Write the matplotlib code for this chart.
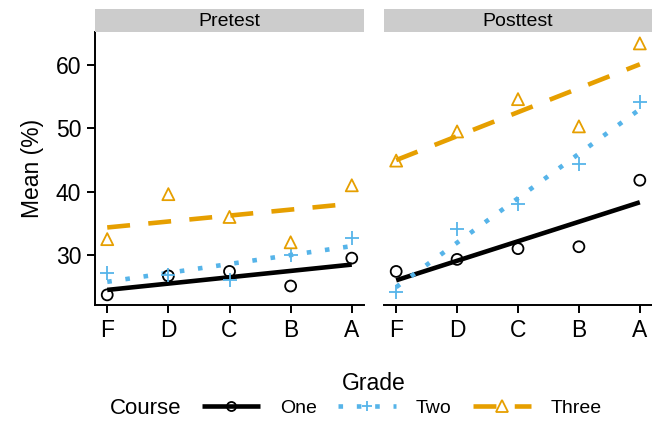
import numpy as np
import matplotlib
matplotlib.use("Agg")
import matplotlib.pyplot as plt
from matplotlib.lines import Line2D

plt.rcParams["font.family"] = ["Liberation Sans", "DejaVu Sans"]

# data
grades = ["F", "D", "C", "B", "A"]
panels = ["Pretest", "Posttest"]
courses = ["One", "Two", "Three"]

pre_one = [23.7, 26.7, 27.4, 25.1, 29.5]
pre_two = [27.2, 26.9, 26.1, 30.0, 32.7]
pre_three = [32.5, 39.6, 36.0, 32.0, 41.0]

post_one = [27.4, 29.3, 31.0, 31.3, 41.8]
post_two = [24.2, 34.1, 38.0, 44.3, 54.2]
post_three = [44.9, 49.5, 54.6, 50.3, 63.4]

values = {
    "Pretest": [pre_one, pre_two, pre_three],
    "Posttest": [post_one, post_two, post_three],
}

colors = ["#000000", "#56B4E9", "#E69F00"]
markers = ["o", "+", "^"]
dashes = [(None, None), (1, 3), (5, 4)]
msize = {"o": 62, "+": 100, "^": 75}

W, H = 652, 422
fig = plt.figure(figsize=(W / 100, H / 100), dpi=100)


def px_axes(left, top, right, bottom):
    return fig.add_axes([left / W, 1 - bottom / H, (right - left) / W, (bottom - top) / H])


x = np.arange(1, len(grades) + 1)
boxes = [(95, 364), (384, 652)]
axes = []
for (l, r), panel in zip(boxes, panels):
    ax = px_axes(l, 32, r, 305)
    axes.append(ax)
    for vals, c, m, d in zip(values[panel], colors, markers, dashes):
        # linear fit, like geom_smooth(method = "lm")
        k, b = np.polyfit(x, vals, 1)
        line = ax.plot(x, k * x + b, color=c, lw=3.3, solid_capstyle="butt",
                       dash_capstyle="butt")[0]
        if d[0] is not None:
            line.set_dashes(d)
        ax.scatter(x, vals, marker=m, s=msize[m],
                   facecolors="none" if m != "+" else c, edgecolors=c,
                   linewidths=1.3, zorder=3)
    ax.set_xlim(0.8, 5.2)
    ax.set_ylim(22.1, 65.2)
    ax.set_xticks(x)
    ax.set_xticklabels(grades)
    ax.set_yticks([30, 40, 50, 60])
    for s in ["top", "right"]:
        ax.spines[s].set_visible(False)
    ax.spines["bottom"].set_linewidth(1.4)
    ax.spines["left"].set_linewidth(1.4)
    ax.tick_params(length=6, width=1.4, labelsize=16.5, colors="black", pad=4)

    # facet strip
    sax = px_axes(l, 9, r, 32)
    sax.set_facecolor("#CCCCCC")
    sax.set_xticks([])
    sax.set_yticks([])
    for s in sax.spines.values():
        s.set_visible(False)
    sax.text(0.5, 0.45, panel, ha="center", va="center", fontsize=14,
             transform=sax.transAxes)

axes[0].set_ylabel("Mean (%)", fontsize=16.5, labelpad=8)
axes[1].spines["left"].set_visible(False)
axes[1].tick_params(axis="y", left=False, labelleft=False)

fig.text((95 + 652) / 2 / W, 1 - 383 / H, "Grade", ha="center", va="center", fontsize=16.5)
fig.text(110 / W, 1 - 408 / H, "Course", ha="left", va="center", fontsize=16)

handles = []
for c, m, d in zip(colors, markers, dashes):
    h = Line2D([], [], color=c, lw=3.3, marker=m, markersize=6.5 if m != "^" else 8,
               markerfacecolor="none" if m != "+" else c, markeredgecolor=c,
               markeredgewidth=1.3, solid_capstyle="butt", dash_capstyle="butt")
    if d[0] is not None:
        h.set_dashes(d)
    handles.append(h)

fig.legend(handles, courses, loc="center left", bbox_to_anchor=(202 / W, 1 - 408 / H),
           ncol=3, frameon=False, fontsize=14, handlelength=3.0, handletextpad=1.0,
           columnspacing=1.1, borderpad=0, borderaxespad=0)

fig.savefig("out.png", dpi=100)
